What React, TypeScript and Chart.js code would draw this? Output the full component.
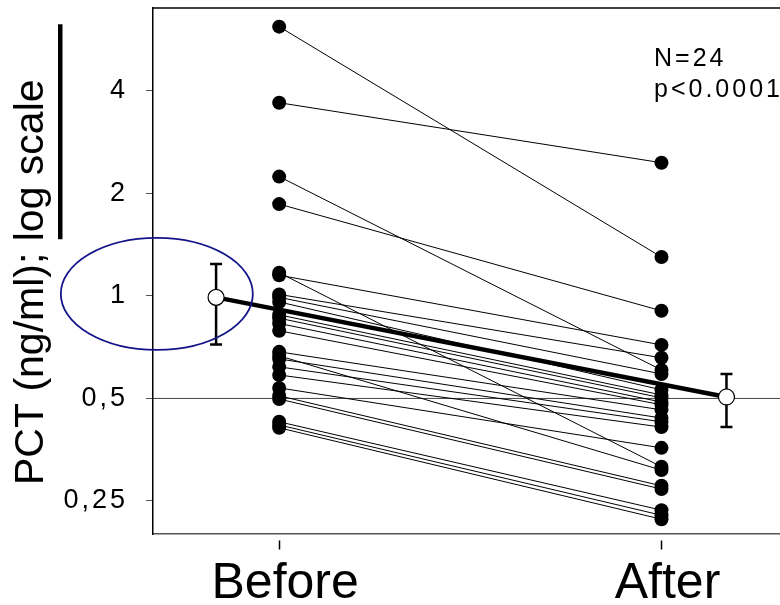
import React, { useEffect, useRef } from "react";
import { Chart, registerables } from "chart.js";

Chart.register(...registerables);

// ---- data ----
const CATEGORIES = ["Before", "After"];
const BEFORE = [6.17, 3.69, 2.24, 1.86, 1.17, 1.15, 1.01, 0.99, 0.96, 0.88, 0.86, 0.83, 0.79, 0.685, 0.667, 0.653, 0.619, 0.586, 0.537, 0.509, 0.498, 0.427, 0.418, 0.41];
const AFTER = [1.3, 2.46, 0.606, 0.904, 0.315, 0.718, 0.658, 0.59, 0.53, 0.512, 0.502, 0.488, 0.479, 0.463, 0.308, 0.438, 0.427, 0.412, 0.358, 0.277, 0.271, 0.235, 0.227, 0.221];
const MEANS = [0.99, 0.505];
const ERR_HI = [1.24, 0.59];
const ERR_LO = [0.72, 0.412];
const MEAN_OFFSET = [-0.165, 0.17];
const REF_VALUE = 0.5;
const Y_TICKS = [0.25, 0.5, 1, 2, 4];
const Y_TICK_LABELS = ["0,25", "0,5", "1", "2", "4"];
const Y_MIN = 0.2;
const Y_MAX = 7;
const X_MIN = -0.33;
const X_MAX = 1.31;
const ELLIPSE_CENTER = [-0.32, 1.0];
const STATS_TEXT = ["N=24", "p<0.0001"];
const Y_TITLE_A = "PCT (ng/ml); ";
const Y_TITLE_B = "log scale";

const FAMILY = "'Liberation Sans', Arial, Helvetica, sans-serif";

const zeroPad = (s: any) => {
  s.paddingTop = 0;
  s.paddingBottom = 0;
  s.paddingLeft = 0;
  s.paddingRight = 0;
};

export default function App() {
  const ref = useRef<HTMLCanvasElement>(null);

  useEffect(() => {
    const canvas = ref.current;
    if (!canvas) return;

    const pairDatasets = BEFORE.map((b, i) => ({
      data: [
        { x: 0, y: b },
        { x: 1, y: AFTER[i] },
      ],
      borderColor: "#000",
      borderWidth: 1,
      tension: 0,
      pointRadius: 7,
      pointHoverRadius: 7,
      pointBackgroundColor: "#000",
      pointBorderColor: "#000",
      pointBorderWidth: 0,
      order: 2,
    }));

    const meanDataset = {
      data: MEANS.map((m, i) => ({ x: i + MEAN_OFFSET[i], y: m })),
      borderColor: "#000",
      borderWidth: 4.5,
      tension: 0,
      pointRadius: 8,
      pointHoverRadius: 8,
      pointBackgroundColor: "#fff",
      pointBorderColor: "#000",
      pointBorderWidth: 1.2,
      order: 1,
    };

    const decor = {
      id: "decor",
      beforeDraw(chart: any) {
        (chart.ctx as any).letterSpacing = "3px";
      },
      beforeDatasetsDraw(chart: any) {
        const ctx = chart.ctx as CanvasRenderingContext2D;
        (ctx as any).letterSpacing = "0px";
        const a = chart.chartArea;
        const xs = chart.scales.x;
        const ys = chart.scales.y;
        ctx.save();
        // reference line
        const yr = ys.getPixelForValue(REF_VALUE);
        ctx.strokeStyle = "#444";
        ctx.lineWidth = 1;
        ctx.beginPath();
        ctx.moveTo(a.left, yr);
        ctx.lineTo(a.right, yr);
        ctx.stroke();
        // top frame line
        ctx.strokeStyle = "#000";
        ctx.lineWidth = 1.5;
        ctx.beginPath();
        ctx.moveTo(a.left, a.top);
        ctx.lineTo(a.right, a.top);
        ctx.stroke();
        // error bars
        ctx.lineWidth = 2.5;
        MEANS.forEach((_, i) => {
          const px = xs.getPixelForValue(i + MEAN_OFFSET[i]);
          const t = ys.getPixelForValue(ERR_HI[i]);
          const b = ys.getPixelForValue(ERR_LO[i]);
          ctx.beginPath();
          ctx.moveTo(px, t);
          ctx.lineTo(px, b);
          ctx.moveTo(px - 6, t);
          ctx.lineTo(px + 6, t);
          ctx.moveTo(px - 6, b);
          ctx.lineTo(px + 6, b);
          ctx.stroke();
        });
        ctx.restore();
      },
      afterDraw(chart: any) {
        const ctx = chart.ctx as CanvasRenderingContext2D;
        const a = chart.chartArea;
        const xs = chart.scales.x;
        const ys = chart.scales.y;
        ctx.save();
        (ctx as any).letterSpacing = "0px";
        // ellipse highlight
        const cx = xs.getPixelForValue(ELLIPSE_CENTER[0]);
        const cy = ys.getPixelForValue(ELLIPSE_CENTER[1]) - 2;
        ctx.strokeStyle = "#14148a";
        ctx.lineWidth = 1.8;
        ctx.beginPath();
        ctx.ellipse(cx, cy, 96, 56, 0, 0, Math.PI * 2);
        ctx.stroke();

        // stats text
        (ctx as any).letterSpacing = "3px";
        ctx.fillStyle = "#000";
        ctx.font = `25px ${FAMILY}`;
        ctx.textAlign = "left";
        ctx.textBaseline = "alphabetic";
        ctx.fillText(STATS_TEXT[0], a.right - 126, a.top + 58);
        ctx.fillText(STATS_TEXT[1], a.right - 126, a.top + 89);

        // y title
        (ctx as any).letterSpacing = "0px";
        ctx.translate(43, 485);
        ctx.rotate(-Math.PI / 2);
        ctx.font = `41px ${FAMILY}`;
        ctx.fillText(Y_TITLE_A, 0, 0);
        const w1 = ctx.measureText(Y_TITLE_A).width;
        ctx.fillText(Y_TITLE_B, w1, 0);
        ctx.fillRect(w1 + 2, 15, 215, 4.5);
        ctx.restore();
      },
    };

    const chart = new Chart(canvas, {
      type: "line",
      data: { datasets: [meanDataset, ...pairDatasets] as any },
      options: {
        animation: false,
        responsive: false,
        events: [],
        layout: { autoPadding: false, padding: { top: 8, right: 0, left: 0, bottom: 0 } },
        plugins: {
          legend: { display: false },
          tooltip: { enabled: false },
        },
        scales: {
          x: {
            type: "linear",
            min: X_MIN,
            max: X_MAX,
            afterBuildTicks: (s: any) => {
              s.ticks = CATEGORIES.map((_, i) => ({ value: i }));
            },
            afterFit: (s: any) => {
              s.height = 71;
              zeroPad(s);
            },
            ticks: {
              callback: (v: any) => CATEGORIES[v] ?? "",
              font: { family: FAMILY, size: 50 },
              color: "#000",
              padding: 4,
              labelOffset: 6,
              autoSkip: false,
              maxRotation: 0,
              z: 1,
            },
            grid: {
              drawOnChartArea: false,
              drawTicks: true,
              tickLength: 16,
              tickColor: "#000",
              tickWidth: 1.5,
              tickBorderDash: [0, 6, 9, 100],
            },
            border: { display: true, color: "#555", width: 1.5 },
          },
          y: {
            type: "logarithmic",
            min: Y_MIN,
            max: Y_MAX,
            afterBuildTicks: (s: any) => {
              s.ticks = Y_TICKS.map((v) => ({ value: v }));
            },
            afterFit: (s: any) => {
              s.width = 153;
              zeroPad(s);
            },
            ticks: {
              callback: (v: any) => {
                const i = Y_TICKS.indexOf(Number(v));
                return i >= 0 ? Y_TICK_LABELS[i] : "";
              },
              font: { family: FAMILY, size: 27 },
              color: "#000",
              padding: 18,
              autoSkip: false,
            },
            grid: {
              drawOnChartArea: false,
              drawTicks: true,
              tickLength: 7,
              tickColor: "#555",
              tickWidth: 1,
            },
            border: { display: true, color: "#000", width: 1.5 },
          },
        },
      },
      plugins: [decor],
    } as any);

    return () => chart.destroy();
  }, []);

  return (
    <canvas
      ref={ref}
      width={780}
      height={605}
      style={{ position: "absolute", left: 0, top: 0, width: 780, height: 605, display: "block", background: "#fff" }}
    />
  );
}
